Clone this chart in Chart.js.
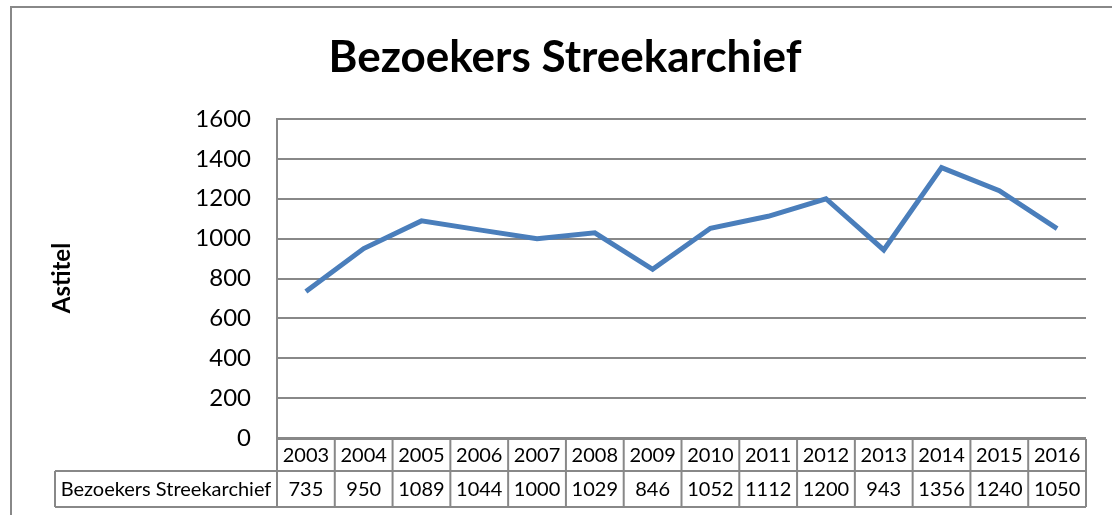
<!DOCTYPE html>
<html>
<head>
<meta charset="utf-8">
<script src="https://cdn.jsdelivr.net/npm/chart.js@4"></script>
<style>
  html, body { margin: 0; padding: 0; background: #fff; }
  #wrap { width: 1112px; height: 515px; }
</style>
</head>
<body>
<div id="wrap"><canvas id="chart" width="1112" height="515"></canvas></div>
<script>
const years = ["2003", "2004", "2005", "2006", "2007", "2008", "2009", "2010", "2011", "2012", "2013", "2014", "2015", "2016"];
const visitors = [735, 950, 1089, 1044, 1000, 1029, 846, 1052, 1112, 1200, 943, 1356, 1240, 1050];
const seriesName = "Bezoekers Streekarchief";
const chartTitle = "Bezoekers Streekarchief";
const yTitle = "Astitel";

const FONT = "Lato, 'Open Sans', sans-serif";
const GRID = "#888888";

// draws border, title, y title and the data table under the plot
const extras = {
    id: "extras",
    afterDraw(chart) {
        const ctx = chart.ctx;
        const x = chart.scales.x;
        const area = chart.chartArea;
        ctx.save();

        // outer frame
        ctx.strokeStyle = GRID;
        ctx.lineWidth = 2;
        ctx.strokeRect(11, 7, 1200, 600);

        // title
        ctx.fillStyle = "#000";
        ctx.font = "bold 44px " + FONT;
        ctx.textAlign = "center";
        ctx.textBaseline = "middle";
        ctx.fillText(chartTitle, 565, 58);

        // y title
        ctx.save();
        ctx.translate(62, 278);
        ctx.rotate(-Math.PI / 2);
        ctx.font = "bold 24px " + FONT;
        ctx.fillText(yTitle, 0, 0);
        ctx.restore();

        // data table
        const top = area.bottom + 1;
        const mid = top + 32;
        const bot = mid + 36;
        const left = 55;
        ctx.strokeStyle = GRID;
        ctx.lineWidth = 2;
        ctx.beginPath();
        ctx.moveTo(area.left, top); ctx.lineTo(area.right, top);
        ctx.moveTo(left, mid); ctx.lineTo(area.right, mid);
        ctx.moveTo(left, bot); ctx.lineTo(area.right, bot);
        ctx.moveTo(left, mid); ctx.lineTo(left, bot);
        const step = (area.right - area.left) / years.length;
        for (let i = 0; i <= years.length; i++) {
            const px = area.left + i * step;
            ctx.moveTo(px, top); ctx.lineTo(px, bot);
        }
        ctx.stroke();

        ctx.fillStyle = "#000";
        ctx.font = "20px " + FONT;
        years.forEach((yr, i) => {
            const px = x.getPixelForValue(i);
            ctx.fillText(yr, px, (top + mid) / 2 + 1);
            ctx.fillText(String(visitors[i]), px, (mid + bot) / 2 + 1);
        });
        ctx.fillText(seriesName, (left + area.left) / 2, (mid + bot) / 2 + 1);
        ctx.restore();
    }
};

new Chart(document.getElementById("chart"), {
    type: "line",
    data: {
        labels: years,
        datasets: [{
            label: seriesName,
            data: visitors,
            borderColor: "#4a7ebb",
            borderWidth: 5,
            pointRadius: 0,
            tension: 0,
            fill: false
        }]
    },
    options: {
        responsive: false,
        animation: false,
        layout: { padding: { left: 0, right: 26, top: 119, bottom: 77 } },
        plugins: {
            legend: { display: false },
            title: { display: false },
            tooltip: { enabled: false }
        },
        scales: {
            x: {
                type: "category",
                offset: true,
                display: false
            },
            y: {
                min: 0,
                max: 1600,
                afterFit(scale) { scale.width = 277; },
                ticks: {
                    stepSize: 200,
                    color: "#000",
                    padding: 26,
                    font: { family: FONT, size: 24 },
                    callback: (v) => String(v)
                },
                grid: { color: GRID, lineWidth: 2, drawTicks: false },
                border: { color: GRID, width: 2 }
            }
        }
    },
    plugins: [extras]
});
</script>
</body>
</html>
